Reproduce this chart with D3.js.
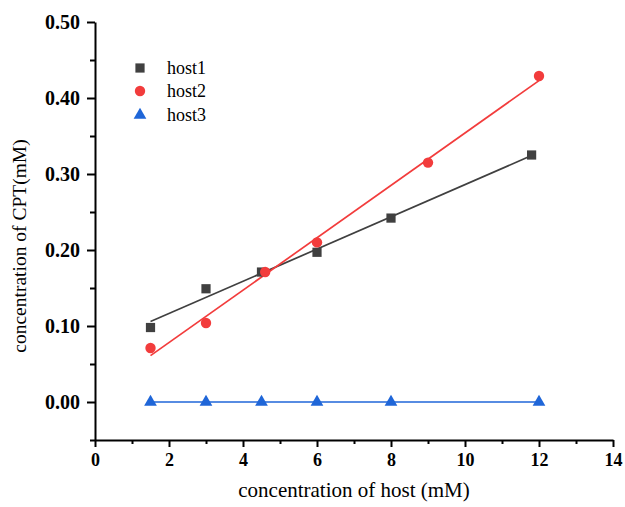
<!DOCTYPE html>
<html>
<head>
<meta charset="utf-8">
<script src="https://cdn.jsdelivr.net/npm/d3@7"></script>
<style>
	body { margin: 0; background: #fff; }
	svg { display: block; }
	.tick_label { font-family: "Liberation Serif", "Times New Roman", serif; font-weight: bold; }
	.title { font-family: "Liberation Serif", "Times New Roman", serif; }
</style>
</head>
<body>
<div id="chart"></div>
<script>

//data
var host1_x = [1.5, 3, 4.5, 6, 8, 11.8];
var host1_y = [0.098, 0.149, 0.171, 0.197, 0.242, 0.325];

var host2_x = [1.5, 3, 4.6, 6, 9, 12];
var host2_y = [0.071, 0.104, 0.171, 0.210, 0.315, 0.429];

var host3_x = [1.5, 3, 4.5, 6, 8, 12];
var host3_y = [0, 0, 0, 0, 0, 0];

var series_names = ["host1", "host2", "host3"];
var series_colors = ["#404040", "#f23c3c", "#1f66d8"];
var series_symbols = [d3.symbolSquare, d3.symbolCircle, d3.symbolTriangle];

var x_ticks = [0, 2, 4, 6, 8, 10, 12, 14];
var y_ticks = [0.00, 0.10, 0.20, 0.30, 0.40, 0.50];

var width = 625;
var height = 507;
var margin = {left: 95, right: 12, top: 22, bottom: 67};

var svg = d3.select("#chart")
	.append("svg")
		.attr("width", width)
		.attr("height", height);

var x = d3.scaleLinear()
	.domain([0, 14])
	.range([margin.left, width - margin.right]);

var y = d3.scaleLinear()
	.domain([-0.05, 0.5])
	.range([height - margin.bottom, margin.top]);

//least squares fit, the straight lines are the linear fits of each series
function linearFit(xs, ys)
{
	var mx = d3.mean(xs);
	var my = d3.mean(ys);
	var sxy = 0, sxx = 0;
	for (var i = 0; i < xs.length; i++)
	{
		sxy += (xs[i] - mx) * (ys[i] - my);
		sxx += (xs[i] - mx) * (xs[i] - mx);
	}
	var slope = sxy / sxx;
	var icept = my - slope * mx;
	var x0 = d3.min(xs), x1 = d3.max(xs);
	return [[x0, icept + slope * x0], [x1, icept + slope * x1]];
}

var series = [
	{name: series_names[0], xs: host1_x, ys: host1_y},
	{name: series_names[1], xs: host2_x, ys: host2_y},
	{name: series_names[2], xs: host3_x, ys: host3_y}
];

//axes
var x_minor = d3.range(1, 14, 2);
var y_minor = [-0.05, 0.05, 0.15, 0.25, 0.35, 0.45];

var gx = svg.append("g")
	.attr("transform", "translate(0," + (height - margin.bottom) + ")");

gx.call(d3.axisBottom(x).tickValues(x_minor).tickSize(4).tickFormat(""));
gx.call(function(g){ g.select(".domain").remove(); });

var gx_major = svg.append("g")
	.attr("transform", "translate(0," + (height - margin.bottom) + ")")
	.call(d3.axisBottom(x).tickValues(x_ticks).tickSize(7).tickSizeOuter(0).tickPadding(6).tickFormat(d3.format("d")));

var gy = svg.append("g")
	.attr("transform", "translate(" + margin.left + ",0)");

gy.call(d3.axisLeft(y).tickValues(y_minor).tickSize(5).tickFormat(""));
gy.call(function(g){ g.select(".domain").remove(); });

var gy_major = svg.append("g")
	.attr("transform", "translate(" + margin.left + ",0)")
	.call(d3.axisLeft(y).tickValues(y_ticks).tickSize(8).tickSizeOuter(0).tickPadding(7).tickFormat(d3.format(".2f")));

svg.selectAll(".domain, .tick line")
	.attr("stroke", "#000")
	.attr("stroke-width", 2);

gx_major.selectAll("text")
	.attr("class", "tick_label")
	.attr("font-size", 18)
	.attr("fill", "#000");

gy_major.selectAll("text")
	.attr("class", "tick_label")
	.attr("font-size", 20)
	.attr("fill", "#000");

//axis titles
svg.append("text")
	.attr("class", "title")
	.attr("x", x(7))
	.attr("y", 497)
	.attr("text-anchor", "middle")
	.attr("font-size", 21)
	.text("concentration of host (mM)");

svg.append("text")
	.attr("class", "title")
	.attr("transform", "translate(26,246) rotate(-90)")
	.attr("text-anchor", "middle")
	.attr("font-size", 19.5)
	.text("concentration of CPT(mM)");

//fit lines
var line = d3.line()
	.x(function(d){ return x(d[0]); })
	.y(function(d){ return y(d[1]); });

series.forEach(function(s, i)
	{
		svg.append("path")
			.attr("d", line(linearFit(s.xs, s.ys)))
			.attr("fill", "none")
			.attr("stroke", series_colors[i])
			.attr("stroke-width", 1.7);
	}
);

//markers
var symbol_sizes = [85, 85, 70];

series.forEach(function(s, i)
	{
		svg.append("g")
			.selectAll("path")
			.data(s.xs.map(function(v, j){ return [v, s.ys[j]]; }))
			.enter()
				.append("path")
					.attr("transform", function(d){ return "translate(" + x(d[0]) + "," + y(d[1]) + ")"; })
					.attr("d", d3.symbol().type(series_symbols[i]).size(symbol_sizes[i]))
					.attr("fill", series_colors[i]);
	}
);

//legend
var legend = svg.append("g");
var legend_y = [68, 91, 115];

series_names.forEach(function(name, i)
	{
		legend.append("path")
			.attr("transform", "translate(140," + legend_y[i] + ")")
			.attr("d", d3.symbol().type(series_symbols[i]).size(symbol_sizes[i]))
			.attr("fill", series_colors[i]);

		legend.append("text")
			.attr("class", "title")
			.attr("x", 167)
			.attr("y", legend_y[i])
			.attr("dy", "0.35em")
			.attr("font-size", 18)
			.text(name);
	}
);

</script>
</body>
</html>
